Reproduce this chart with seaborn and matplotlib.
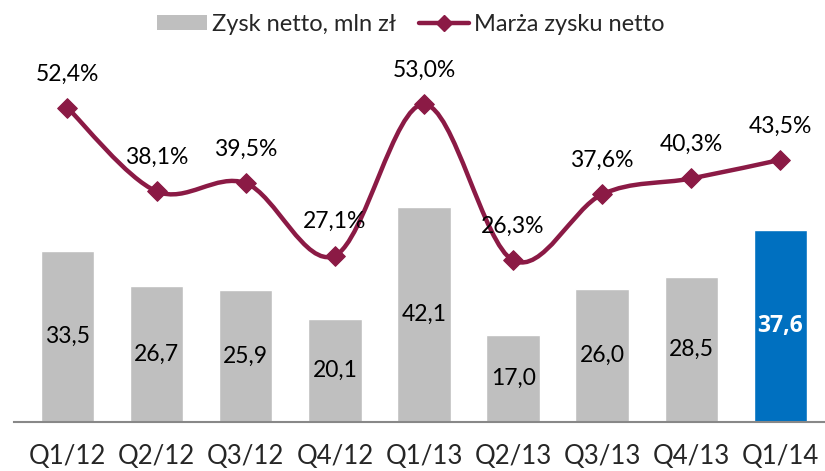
import numpy as np
import pandas as pd
import matplotlib
matplotlib.use("Agg")
import matplotlib.pyplot as plt
import seaborn as sns
from matplotlib.path import Path
from matplotlib.patches import PathPatch, Patch
from matplotlib.lines import Line2D

categories = ["Q1/12", "Q2/12", "Q3/12", "Q4/12", "Q1/13", "Q2/13", "Q3/13", "Q4/13", "Q1/14"]
profit = [33.5, 26.7, 25.9, 20.1, 42.1, 17.0, 26.0, 28.5, 37.6]
margin = [52.4, 38.1, 39.5, 27.1, 53.0, 26.3, 37.6, 40.3, 43.5]

sns.set_theme(style="white")
plt.rcParams["font.family"] = ["Lato", "DejaVu Sans"]

GRAY = "#BFBFBF"
BLUE = "#0070C0"
MAROON = "#8B1A45"

fig = plt.figure(figsize=(8.25, 4.71), dpi=100)
ax = fig.add_axes([14/825, (471-422)/471, 1 - 14/825, (422-40)/471])

df = pd.DataFrame({"cat": categories, "profit": profit})
colors = [GRAY] * (len(categories) - 1) + [BLUE]
sns.barplot(data=df, x="cat", y="profit", hue="cat", palette=colors, legend=False,
            width=0.6, ax=ax, saturation=1)
ax.set_ylim(0, 74.9)
ax.set_xlim(-0.6, 8.5)
for i, v in enumerate(profit):
    last = i == len(profit) - 1
    ax.text(i, v / 2, f"{v:.1f}".replace(".", ","), ha="center", va="center",
            fontsize=16.5, color="white" if last else "black",
            fontweight="bold" if last else "normal",
            family=["Open Sans", "DejaVu Sans"] if last else ["Lato", "DejaVu Sans"])

ax.set_xlabel("")
ax.set_ylabel("")
ax.set_yticks([])
ax.tick_params(axis="x", length=0, labelsize=18.5, pad=16)
for s in ["top", "right", "left"]:
    ax.spines[s].set_visible(False)
ax.spines["bottom"].set_color("#888888")
ax.spines["bottom"].set_linewidth(1.5)

ax2 = ax.twinx()
ax2.set_ylim(-1.37, 64.0)
ax2.set_yticks([])
for s in ["top", "right", "left", "bottom"]:
    ax2.spines[s].set_visible(False)

# smoothed line (Catmull-Rom as cubic Bezier) through data points
xs = np.arange(len(margin), dtype=float)
ys = np.array(margin, dtype=float)
pts = np.column_stack([xs, ys])
verts = [tuple(pts[0])]
codes = [Path.MOVETO]
n = len(pts)
for i in range(n - 1):
    p0 = pts[i - 1] if i > 0 else pts[i]
    p1 = pts[i]
    p2 = pts[i + 1]
    p3 = pts[i + 2] if i + 2 < n else pts[i + 1]
    c1 = p1 + (p2 - p0) / 6.0
    c2 = p2 - (p3 - p1) / 6.0
    verts += [tuple(c1), tuple(c2), tuple(p2)]
    codes += [Path.CURVE4] * 3
ax2.add_patch(PathPatch(Path(verts, codes), fill=False, edgecolor=MAROON, lw=3.2,
                        capstyle="round", joinstyle="round"))
sns.scatterplot(x=xs, y=ys, marker="D", s=100, color=MAROON, edgecolor=MAROON, ax=ax2, zorder=5)
for i, v in enumerate(margin):
    ax2.text(i, v + 4.0, f"{v:.1f}%".replace(".", ","), ha="center", va="bottom",
             fontsize=16.5, color="black")

handles = [Patch(facecolor=GRAY, edgecolor="none"),
           Line2D([0], [0], color=MAROON, lw=3.2, marker="D", markersize=8)]
fig.legend(handles, ["Zysk netto, mln zł", "Marża zysku netto"], loc="upper center",
           bbox_to_anchor=(0.498, 1.015), ncol=2, frameon=False, fontsize=17,
           handlelength=2.1, handleheight=0.6, handletextpad=0.2, columnspacing=1.0)

fig.savefig("out.png", dpi=100)
